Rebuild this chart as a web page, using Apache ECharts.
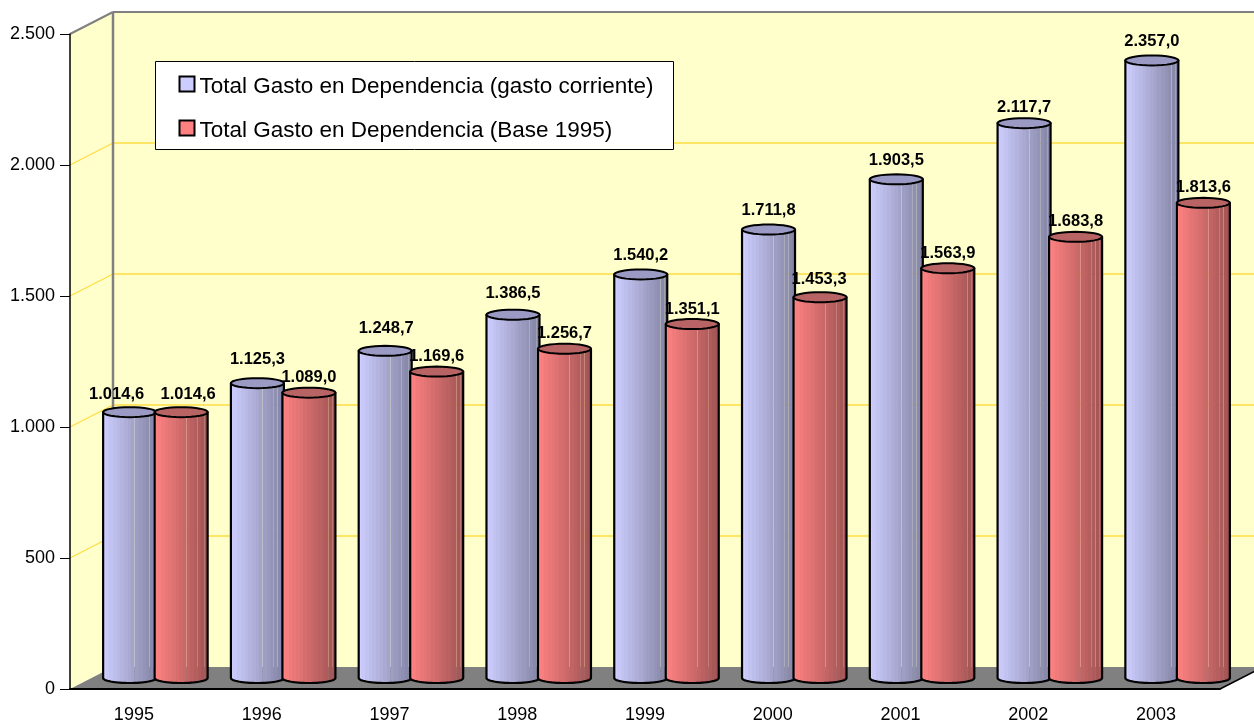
<!DOCTYPE html>
<html><head><meta charset="utf-8">
<style>html,body{margin:0;padding:0;background:#fff}#c{width:1254px;height:724px}</style>
<script src="https://cdn.jsdelivr.net/npm/echarts@6/dist/echarts.min.js"></script>
</head><body><div id="c"></div>
<script>
const categories = ['1995','1996','1997','1998','1999','2000','2001','2002','2003'];
const corriente = [1014.6,1125.3,1248.7,1386.5,1540.2,1711.8,1903.5,2117.7,2357.0];
const base1995 = [1014.6,1089.0,1169.6,1256.7,1351.1,1453.3,1563.9,1683.8,1813.6];
const yTicks = [0,500,1000,1500,2000,2500];
const nameA = 'Total Gasto en Dependencia (gasto corriente)';
const nameB = 'Total Gasto en Dependencia (Base 1995)';

const FONT = '"Liberation Sans", Arial, sans-serif';
const DEPTH_X = 43, DEPTH_Y = -22;
const MID_X = 21.5, MID_Y = -11, RX = 26.5, RY = 5;

function num(v, dec) {
  const s = v.toFixed(dec).split('.');
  const i = s[0].replace(/\B(?=(\d{3})+$)/g, '.');
  return dec ? i + ',' + s[1] : i;
}
function mix(a, b, t) { return a.map((c, i) => Math.round(c + (b[i] - c) * t)); }
function bands(from, to) {
  const n = 15, stops = [], streaks = {8: 0.72, 11: 0.8, 12: 0.72, 13: 0.8};
  for (let i = 0; i < n; i++) {
    const c = mix(from, to, i / (n - 1));
    const col = `rgb(${c[0]},${c[1]},${c[2]})`;
    const e = (i + 1) / n - 0.012;
    stops.push({offset: i / n, color: col}, {offset: e, color: col});
    const a = streaks[i] || 1;
    const h = `rgba(${c[0]},${c[1]},${c[2]},${a})`;
    stops.push({offset: e, color: h}, {offset: (i + 1) / n, color: h});
  }
  return stops;
}
function arc(cx, cy, from, to) {
  const p = [];
  for (let k = 0; k <= 32; k++) {
    const t = from + (to - from) * k / 32;
    p.push([cx + RX * Math.cos(t), cy + RY * Math.sin(t)]);
  }
  return p;
}
function cylinder(look, side, nudges) {
  return function (params, api) {
    const i = api.value(0), v = api.value(1);
    const cx = api.coord([i, 0])[0] + MID_X + side * 25.75;
    const yb = api.coord([i, 0])[1] + MID_Y;
    const yt = api.coord([i, v])[1] + MID_Y;
    const body = [[cx - RX, yt], [cx - RX, yb]]
      .concat(arc(cx, yb, Math.PI, 0))
      .concat([[cx + RX, yt]]);
    const n = nudges[i] || [0, look.labelUp];
    return {type: 'group', children: [
      {type: 'polygon', shape: {points: body}, style: {
        fill: {type: 'linear', x: 0, y: 0, x2: 1, y2: 0, colorStops: bands(look.from, look.to)},
        stroke: '#000', lineWidth: 2.2, lineJoin: 'round'}},
      {type: 'polygon', shape: {points: arc(cx, yt, 0, Math.PI * 2)}, style: {
        fill: look.top, stroke: '#000', lineWidth: 2}},
      {type: 'text', z2: 50, style: {
        x: cx + n[0], y: yt - n[1], text: num(v, 1), align: 'center', verticalAlign: 'middle',
        font: 'bold 16.5px ' + FONT, fill: '#000'}}
    ]};
  };
}
function backdrop(params, api) {
  const band = api.size([1, 0])[0];
  const n = categories.length;
  const x0 = api.coord([0, 0])[0] - band / 2, x1 = api.coord([n - 1, 0])[0] + band / 2;
  const y0 = api.coord([0, 0])[1], y1 = api.coord([0, yTicks[yTicks.length - 1]])[1];
  const dx = DEPTH_X, dy = DEPTH_Y, ch = [];
  const poly = (pts, fill) => ch.push({type: 'polygon', shape: {points: pts}, style: {fill: fill}});
  const line = (a, b, c, w) => ch.push({type: 'line', shape: {x1: a[0], y1: a[1], x2: b[0], y2: b[1]}, style: {stroke: c, lineWidth: w}});
  poly([[x0 + dx, y1 + dy], [x1 + dx, y1 + dy], [x1 + dx, y0 + dy], [x0 + dx, y0 + dy]], '#FFFFCC');
  poly([[x0, y1], [x0 + dx, y1 + dy], [x0 + dx, y0 + dy], [x0, y0]], '#FFFFCC');
  poly([[x0, y0], [x1, y0], [x1 + dx, y0 + dy], [x0 + dx, y0 + dy]], '#808080');
  yTicks.slice(1, -1).forEach(t => {
    const y = api.coord([0, t])[1];
    line([x0, y], [x0 + dx, y + dy], '#FFDD44', 1.4);
    line([x0 + dx, y + dy], [x1 + dx, y + dy], '#FFDD44', 1.4);
  });
  line([x0, y1], [x0 + dx, y1 + dy], '#808080', 2);
  line([x0 + dx, y1 + dy], [x1 + dx, y1 + dy], '#808080', 2);
  line([x0 + dx, y1 + dy], [x0 + dx, y0 + dy], '#808080', 2.5);
  line([x1, y0], [x1 + dx, y0 + dy], '#000', 1.5);
  return {type: 'group', children: ch};
}

const lookA = {from: [206,206,255], to: [132,132,164], top: '#9A9AC4', labelUp: 19};
const lookB = {from: [255,130,130], to: [160,84,84], top: '#B86464', labelUp: 15};
const nudgeA = {0: [-13, 18], 1: [0, 24], 2: [1, 22], 3: [0, 21], 7: [0, 16]};
const nudgeB = {0: [7, 18], 5: [-1, 18]};

const chart = echarts.init(document.getElementById('c'), null, {renderer: 'canvas'});
chart.setOption({
  animation: false,
  backgroundColor: '#fff',
  textStyle: {fontFamily: FONT},
  grid: {left: 70, right: 34, top: 34, bottom: 35, containLabel: false},
  legend: {
    orient: 'vertical', left: 155.5, top: 61.5, itemWidth: 15, itemHeight: 15, itemGap: 16,
    padding: [8.5, 20, 7.5, 23], backgroundColor: '#fff', borderColor: '#000', borderWidth: 1, borderRadius: 0,
    formatter: name => '{a|' + name + '}',
    textStyle: {fontSize: 22.5, fontFamily: FONT, color: '#000',
      rich: {a: {fontSize: 22.5, fontFamily: FONT, color: '#000', lineHeight: 23, padding: [5, 0, 0, 0]}}},
    selectedMode: false, icon: 'rect',
    data: [
      {name: nameA, itemStyle: {color: '#CCCCFF', borderColor: '#000', borderWidth: 2}},
      {name: nameB, itemStyle: {color: '#FF8080', borderColor: '#000', borderWidth: 2}}
    ]
  },
  xAxis: {
    type: 'category', data: categories, boundaryGap: true,
    axisLine: {lineStyle: {color: '#000', width: 2}},
    axisTick: {length: 10, lineStyle: {color: '#000', width: 1}},
    axisLabel: {fontSize: 18, color: '#000', margin: 17, fontFamily: FONT},
    splitLine: {show: false}
  },
  yAxis: {
    type: 'value', min: 0, max: 2500, interval: 500,
    axisLine: {show: true, lineStyle: {color: '#000', width: 1.5}},
    axisTick: {show: true, length: 10, lineStyle: {color: '#000', width: 1}},
    axisLabel: {fontSize: 18, color: '#000', margin: 15, fontFamily: FONT, formatter: v => num(v, 0)},
    splitLine: {show: false}
  },
  series: [
    {name: 'fondo', type: 'custom', z: -1, silent: true, clip: false, renderItem: backdrop, data: [[0, 0]], encode: {x: 0, y: 1}},
    {name: nameA, type: 'custom', z: 3, clip: false, renderItem: cylinder(lookA, -1, nudgeA), itemStyle: {color: '#CCCCFF'},
      data: corriente.map((v, i) => [i, v]), encode: {x: 0, y: 1}},
    {name: nameB, type: 'custom', z: 4, clip: false, renderItem: cylinder(lookB, 1, nudgeB), itemStyle: {color: '#FF8080'},
      data: base1995.map((v, i) => [i, v]), encode: {x: 0, y: 1}}
  ]
});
</script></body></html>
